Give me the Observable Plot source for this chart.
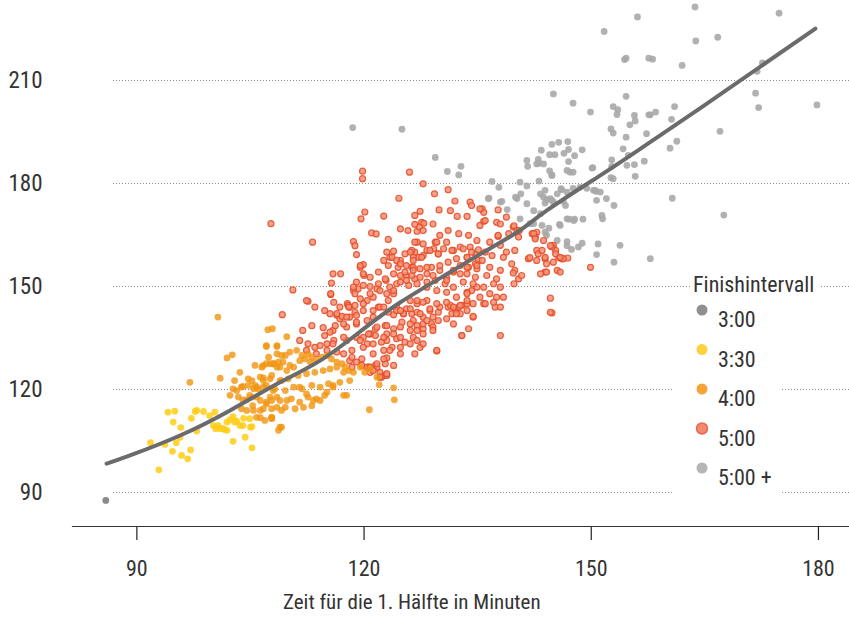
<!DOCTYPE html>
<html><head><meta charset="utf-8">
<script src="https://cdn.jsdelivr.net/npm/d3@7"></script>
<script src="https://cdn.jsdelivr.net/npm/@observablehq/plot@0.6"></script>
<style>
body{margin:0;background:#fff;}
#wrap{position:relative;width:849px;height:620px;font-family:"Liberation Sans Narrow","Arial Narrow","Roboto Condensed",sans-serif;color:#333;}
#xtitle{position:absolute;left:283px;top:592px;font-size:21px;white-space:nowrap;line-height:1;}
#legend{position:absolute;left:0;top:0;pointer-events:none;}
</style></head><body><div id="wrap"><div id="chart"></div><div id="xtitle"></div></div>
<script>
const xTitle = "Zeit für die 1. Hälfte in Minuten";
const legendTitle = "Finishintervall";
const finishLabels = ["3:00","3:30","4:00","5:00","5:00 +"];
const xTicks = [90,120,150,180];
const yTicks = [90,120,150,180,210];

const trendX = [86.0,89.1,95.7,102.3,108.9,114.2,119.5,124.8,131.4,135.3,140.2,144.1,150.8,155.2,164.5,179.6];
const trendY = [98.4,100.8,106.6,113.9,122.1,128.4,136.9,145.4,154.2,159.4,165.8,172.1,181.8,188.2,202.1,225.1];

const pts300 = [[85.9,87.7]];

const pts330 = [[94.1,113.4],[95.0,113.7],[94.8,110.5],[95.8,108.9],[91.8,104.5],[93.7,104.0],[95.2,104.5],[95.7,106.1],[94.7,102.0],[95.9,100.8],[96.7,99.8],[97.1,102.4],[92.9,96.6],[97.9,113.9],[97.7,113.6],[98.8,113.6],[97.2,111.6],[97.9,107.9],[99.6,112.4],[100.3,113.4],[100.1,109.5],[100.7,109.5],[101.0,108.6],[101.6,108.3],[101.9,110.5],[102.7,112.1],[102.9,110.5],[102.3,111.2],[102.7,104.9],[104.0,109.5],[104.3,106.1],[105.2,103.0],[105.0,109.0],[104.9,111.5],[100.4,108.6],[101.3,108.7],[103.2,110.8],[103.6,109.5],[105.2,109.2],[101.9,108.1],[104.1,111.6]];

const pts400 = [[100.7,141.1],[97.0,122.1],[101.0,123.3],[101.9,129.2],[102.6,130.1],[103.6,125.0],[104.7,123.1],[105.6,127.0],[107.1,132.8],[107.3,137.4],[107.9,137.7],[109.8,135.4],[108.5,132.8],[109.1,129.9],[110.2,130.9],[111.1,131.4],[107.6,127.5],[108.5,126.5],[109.3,128.0],[110.2,127.0],[102.7,120.2],[103.8,120.7],[105.4,120.2],[106.7,120.7],[108.0,119.7],[103.4,117.8],[104.5,117.0],[105.8,117.8],[107.1,116.3],[108.5,117.8],[109.8,116.8],[103.8,114.4],[105.4,113.9],[106.7,114.4],[108.5,114.8],[109.6,114.8],[106.3,111.8],[107.8,111.8],[108.9,109.0],[108.7,108.1],[104.9,118.3],[106.7,123.4],[107.6,123.1],[109.1,122.6],[102.9,122.6],[104.0,120.9],[104.7,121.2],[105.2,122.6],[105.6,121.2],[106.0,120.2],[106.7,122.6],[106.5,126.5],[107.1,127.5],[108.1,127.5],[107.4,129.4],[108.5,130.4],[107.1,132.5],[108.5,132.5],[102.3,118.3],[103.2,119.7],[104.0,117.0],[105.2,117.8],[105.3,115.3],[106.3,113.9],[105.8,111.9],[106.9,111.0],[107.8,111.9],[107.1,115.8],[107.8,116.8],[108.7,128.0],[109.6,129.9],[111.8,129.9],[112.6,130.4],[113.1,129.4],[106.7,127.0],[108.0,127.5],[108.9,126.5],[109.8,125.5],[110.7,126.5],[111.5,128.4],[112.2,128.9],[112.9,128.0],[113.7,128.4],[114.4,129.4],[115.1,129.9],[115.7,128.9],[116.4,128.0],[117.1,127.5],[117.5,126.5],[118.0,125.5],[106.3,123.6],[107.8,124.1],[108.9,122.6],[110.0,123.1],[111.3,124.1],[112.4,124.6],[113.5,125.0],[114.6,125.5],[115.5,126.0],[116.4,126.5],[117.3,125.0],[105.8,120.7],[107.1,121.2],[108.2,120.2],[109.6,119.7],[110.7,120.7],[111.8,120.2],[113.1,121.2],[114.2,120.7],[115.3,121.7],[115.9,121.2],[116.8,122.1],[118.1,122.6],[106.3,116.8],[107.6,117.8],[108.9,116.8],[110.4,117.3],[111.5,116.3],[112.6,117.8],[113.7,117.3],[114.8,118.3],[115.9,120.7],[117.7,118.3],[104.5,113.9],[107.8,114.4],[109.1,113.9],[110.9,114.4],[112.0,114.8],[113.1,115.3],[114.2,116.8],[107.8,111.5],[109.1,109.0],[120.7,114.1],[121.7,123.6],[122.0,121.4],[111.5,120.7],[112.4,118.7],[113.3,116.8],[115.1,119.2],[117.3,118.3],[123.9,120.5],[124.0,117.0],[119.5,126.5],[120.1,125.0],[120.8,126.0],[118.6,125.0]];

const pts500 = [[119.8,183.6],[119.8,181.4],[126.0,183.3],[107.7,168.3],[113.2,162.9],[120.1,171.7],[119.6,169.7],[122.6,170.5],[124.6,175.7],[126.7,170.7],[127.4,171.9],[121.0,165.6],[121.6,165.3],[124.8,166.8],[125.8,166.3],[127.0,166.1],[118.6,163.1],[118.8,161.9],[123.2,163.7],[127.0,162.9],[119.0,159.3],[123.0,160.0],[123.9,160.3],[123.4,158.5],[122.6,157.6],[119.9,156.4],[119.5,155.6],[124.8,157.6],[125.6,156.1],[126.3,155.6],[126.7,160.0],[126.3,160.5],[127.2,158.5],[115.9,153.7],[116.9,153.7],[115.7,151.0],[120.0,153.2],[119.0,151.3],[119.2,149.3],[118.6,148.8],[120.8,150.0],[121.7,149.3],[122.9,151.8],[124.3,150.8],[124.8,153.2],[125.6,153.2],[126.5,155.6],[126.7,152.2],[110.6,149.0],[112.6,145.7],[113.5,144.0],[114.8,143.0],[115.6,147.7],[116.0,145.4],[116.8,144.0],[117.8,145.0],[118.1,144.0],[109.2,141.8],[118.8,147.9],[119.5,146.4],[120.4,145.9],[121.2,146.9],[121.9,144.0],[123.2,145.9],[123.9,147.9],[124.3,144.0],[125.6,143.5],[126.3,142.1],[125.2,142.1],[127.0,145.0],[123.9,141.8],[115.5,142.1],[116.4,141.6],[118.1,141.1],[116.8,140.6],
[123.7,158.5],[123.2,156.1],[124.3,157.6],[126.1,160.0],[126.5,158.5],[128.3,160.5],[127.8,159.0],[129.2,161.0],[129.8,159.5],[129.4,162.9],[130.9,162.9],[131.8,160.5],[132.7,161.5],[134.0,161.5],[134.7,159.5],[133.6,158.5],[135.1,157.6],[119.5,156.1],[119.9,153.7],[120.8,152.7],[121.9,154.2],[122.8,152.2],[123.9,153.7],[124.5,155.6],[125.4,154.2],[126.3,153.2],[127.4,155.2],[128.3,153.7],[128.9,155.6],[130.0,154.7],[130.9,152.7],[131.8,154.2],[132.7,156.1],[133.8,155.6],[134.9,155.2],[133.6,153.7],[134.7,152.7],[118.6,149.8],[119.9,150.3],[120.8,147.9],[122.1,148.8],[123.4,149.8],[124.8,151.3],[125.9,150.3],[127.0,150.8],[128.3,151.3],[129.4,151.8],[130.7,150.8],[131.8,149.8],[133.1,151.3],[134.2,148.8],[133.6,148.3],[134.9,149.8],[117.1,141.3],[117.9,144.5],[118.8,142.5],[119.9,143.0],[121.2,141.1],[122.1,144.0],[123.2,142.5],[124.3,143.0],[125.2,142.1],[126.1,143.5],[127.0,142.5],[127.8,141.1],[128.7,143.0],[129.8,142.5],[131.1,144.0],[132.0,143.0],[132.9,144.5],[133.6,143.0],[134.4,141.1],[114.6,138.0],[115.9,137.2],[117.7,138.2],[119.0,139.1],[120.4,140.1],[121.5,137.7],[122.8,138.6],[123.9,137.7],[125.0,139.6],[126.1,137.2],[127.0,138.6],[127.8,137.7],[128.9,139.1],[129.8,140.1],[130.9,140.6],[131.8,139.1],[132.9,135.7],[117.7,134.3],[119.0,135.2],[120.4,133.3],[121.5,135.7],[123.0,134.3],[124.3,134.8],[125.4,133.8],[126.5,135.2],[127.4,132.3],[129.6,131.2],[122.6,131.4],[123.7,132.3],[124.8,130.4],[118.1,128.4],[119.7,128.9],[120.6,126.5],[121.5,127.0],[122.1,125.0],[122.8,124.1],[123.0,129.2],
[127.8,179.9],[131.1,178.2],[129.3,177.0],[132.0,174.9],[134.0,174.6],[134.2,173.6],[135.6,172.6],[135.8,171.6],[129.9,172.3],[131.4,172.1],[132.3,170.4],[133.6,170.4],[135.3,167.8],[135.8,169.0],[137.7,172.3],[138.8,170.2],[137.5,168.7],[138.0,168.2],[127.6,168.7],[127.9,168.4],[129.1,168.2],[127.3,167.3],[127.8,166.3],[130.0,164.9],[131.1,166.3],[132.5,165.4],[133.8,164.9],[134.9,163.4],[136.6,162.9],[137.7,164.6],[139.7,167.3],[138.8,160.0],[139.9,160.5],[138.0,162.0],[140.4,164.4],[142.2,165.4],[142.8,165.8],[142.6,164.4],[126.7,162.9],[127.8,162.4],[129.6,162.9],[130.5,161.0],[131.6,160.5],[133.1,161.0],[134.2,160.0],[135.1,160.7],[136.0,160.0],[136.9,159.0],[138.4,158.5],[125.4,159.5],[126.5,157.6],[127.6,158.5],[128.7,160.5],[129.8,159.5],[131.1,157.1],[132.2,158.1],[133.6,158.5],[134.7,156.6],[135.6,157.6],[136.6,155.6],[138.0,154.7],[139.9,154.7],[140.4,152.2],[139.8,150.8],[141.7,158.1],[142.8,160.5],[142.8,157.6],[143.9,158.1],[143.9,154.2],[145.0,162.0],[145.5,154.7],[146.1,158.1],[146.9,158.3],[145.9,154.2],[124.8,156.6],[126.5,154.7],[128.3,155.6],[130.0,156.1],[131.8,154.7],[133.6,155.6],[134.9,156.1],[136.2,153.2],[137.5,152.2],[135.8,149.8],[137.1,150.8],[138.0,149.8],[134.4,150.8],[132.7,153.7],[130.9,151.8],[129.1,153.2],[127.4,152.7],[125.6,151.8],[128.3,149.8],[129.6,148.8],[130.9,148.3],[132.2,146.9],[133.6,147.9],[135.3,146.9],[136.6,147.9],[137.5,146.9],[138.4,146.9],[137.3,144.0],[135.8,145.0],[133.6,145.0],[132.5,144.0],[131.4,144.5],[130.0,144.0],[128.3,145.9],[127.0,145.9],[127.4,142.1],[129.1,141.1],[131.6,142.1],[132.7,142.1],[144.6,146.6],[144.8,142.3],[124.8,143.0],[126.5,140.1],[127.8,139.1],[129.1,138.2],[133.8,137.7],
[126.7,168.1],[139.8,167.7],[140.2,166.3],[142.4,165.4],[142.6,163.9],[143.7,163.4],[145.3,160.5],[145.7,158.5],[146.3,158.1],[145.0,157.1],[144.1,156.6],[143.9,158.5],[143.0,159.5],[141.9,158.4],[144.1,154.2],[149.9,155.6],[143.3,153.7],[144.8,161.5],[115.6,147.9],[121.9,150.8],[123.0,147.9],[123.9,148.8],[135.3,172.6],[136.0,169.2],[137.7,164.9],[139.1,165.4],[140.5,166.3],[144.6,161.9],[145.3,159.5],[145.9,158.5],[143.5,160.5],[139.5,156.6],[139.7,153.9],[140.8,153.2],
[113.1,138.6],[111.9,137.2],[111.5,134.3],[112.6,133.3],[113.5,132.3],[114.2,132.8],[115.1,133.3],[116.0,134.3],[113.7,130.4],[114.8,135.7],[115.5,136.7],[116.2,138.6],[117.3,139.1],[117.7,141.1],[116.4,142.1],[118.0,144.0],[119.0,141.6],[118.8,144.5],[119.9,145.0],[119.0,139.6],[121.2,143.0],[122.6,144.0],[123.0,138.6],[121.7,138.2],[120.8,136.2],[119.9,135.2],[121.2,133.3],[122.3,133.8],[123.0,136.2],[117.3,130.4],[118.4,129.4],[119.0,128.0],[119.7,127.0],[120.4,126.5],[120.8,125.0],[121.7,126.5],[122.8,127.5],[122.3,123.6],[123.0,124.1],[118.4,126.5],[112.4,131.4],
[112.4,145.9],[126.1,145.9],[127.8,145.4],[128.7,143.5],[129.6,145.0],[130.9,145.4],[131.8,144.0],[132.7,144.5],[133.6,145.9],[134.4,145.0],[136.0,145.0],[137.1,145.4],[138.0,144.0],[144.6,142.5],[138.0,135.7],[134.4,141.3],[132.9,135.7],[132.2,142.1],[128.3,140.1],[129.1,137.2],[127.8,136.2],[127.0,134.3],[126.1,133.3],[124.8,132.3],[123.4,131.4],[122.6,128.9],[121.7,127.5],[120.8,126.5],[123.0,124.6],[122.1,123.6],[120.6,136.2],[119.5,134.3],[117.3,135.2],[115.9,133.3],[115.1,131.4],[116.4,130.9],[118.4,131.4],[119.9,132.3],[121.2,130.4],[122.6,135.2],[123.9,136.2],[124.8,138.2],[126.1,139.1],[127.0,137.2],[124.8,135.2],[126.7,130.4],[129.6,131.4],[127.8,133.3],[123.9,127.0],[121.2,125.5]];

const pts500plus = [[118.5,196.3],[125.0,195.8],[129.4,187.6],[131.0,183.5],[132.5,182.5],[132.8,185.0],[136.9,180.6],[137.8,178.9],[136.5,175.7],[138.0,174.6],[138.2,174.8],[138.9,172.4],[140.2,175.6],[140.7,177.0],[140.6,180.4],[141.5,179.3],[141.6,185.0],[141.5,186.7],[142.8,185.7],[143.0,187.0],[143.4,189.7],[144.5,188.4],[144.8,191.4],[145.2,188.4],[145.7,192.0],[146.9,192.2],[146.4,188.8],[147.0,189.9],[147.8,188.1],[148.8,189.8],[147.6,183.3],[146.8,183.8],[144.5,183.7],[144.8,182.5],[143.1,180.7],[145.0,206.1],[147.6,203.4],[149.9,200.8],[150.1,184.5],[150.3,178.0],[150.7,177.7],[149.4,178.6],[147.6,178.6],[146.8,177.5],[145.5,177.0],[144.1,175.3],[143.7,176.0],[144.6,175.6],[146.3,174.8],[146.6,173.6],[145.0,174.6],[143.9,174.3],[142.4,172.1],[143.3,171.2],[140.6,169.7],[142.4,168.3],[143.5,167.8],[144.4,167.0],[143.9,165.8],[144.1,164.9],[145.5,163.4],[146.8,163.1],[148.3,161.5],[147.4,160.8],[148.8,162.6],[150.9,162.4],[150.7,159.3],[147.1,169.6],[147.8,169.6],[148.9,169.6],[145.8,168.1],[143.7,185.7],[143.9,178.0],[146.1,178.2],[144.8,182.3],[147.2,183.3],[143.3,177.0],[146.8,161.9],[147.7,169.2],[146.8,169.7],[145.9,167.8],[144.8,175.1],[136.4,175.6],[140.0,176.0],[141.5,174.1],[154.6,205.4],[152.9,202.4],[153.5,201.5],[153.4,200.1],[155.7,199.8],[155.8,198.2],[155.1,197.1],[157.6,200.0],[152.6,195.9],[152.9,194.7],[154.6,193.5],[157.3,194.5],[154.2,190.1],[154.9,188.2],[154.7,185.3],[155.7,185.5],[157.0,186.5],[155.8,182.1],[152.7,186.9],[152.6,181.7],[152.9,181.4],[150.2,184.6],[143.1,185.9],[147.0,186.4],[146.0,178.5],[148.5,178.9],[150.5,178.0],[151.2,177.5],[152.0,175.6],[153.0,173.6],[150.7,175.1],[151.4,170.7],[151.5,169.7],[142.5,165.0],[153.8,162.0],[153.0,157.1],[157.8,158.1],[141.9,168.3],[163.7,231.4],[174.8,229.6],[156.1,228.5],[151.7,224.3],[163.8,221.5],[166.7,222.6],[154.4,216.1],[154.6,216.5],[157.6,216.5],[158.1,216.2],[162.0,214.4],[172.6,215.1],[171.9,212.7],[171.7,206.3],[172.1,202.1],[179.8,202.9],[157.8,200.0],[158.5,200.8],[161.0,202.4],[160.6,198.7],[167.0,195.2],[160.4,190.3],[161.3,192.3],[152.7,185.0],[160.7,175.7],[167.5,170.8]];

const FONT = '"Liberation Sans Narrow","Arial Narrow","Roboto Condensed",sans-serif';
const rows = (arr) => arr.map(([x, y]) => ({x, y}));
const trend = trendX.map((x, i) => ({x, y: trendY[i]}));

const plot = Plot.plot({
  width: 849, height: 620,
  marginLeft: 72, marginRight: 0, marginTop: 0, marginBottom: 94,
  x: {domain: [81.5, 184.1]},
  y: {domain: [80.1, 233.3]},
  style: {fontFamily: FONT, fontSize: "22px", color: "#333", background: "transparent"},
  marks: [
    Plot.gridY(yTicks, {stroke: "#8a8a8a", strokeOpacity: 1, strokeDasharray: "1,2", insetLeft: 41}),
    Plot.axisY(yTicks, {tickSize: 0, tickPadding: 30, label: null, fontSize: 23}),
    Plot.axisX(xTicks, {tickSize: 14, tickPadding: 20, label: null, stroke: "#222", strokeWidth: 1.2}),
    Plot.frame({anchor: "bottom", stroke: "#333", strokeWidth: 1.2}),
    Plot.dot(rows(pts500plus), {x: "x", y: "y", r: 3.4, fill: "#a9a9a9", fillOpacity: 0.9}),
    Plot.dot(rows(pts500), {x: "x", y: "y", r: 3, fill: "#f39079", fillOpacity: 0.85, stroke: "#e54a22", strokeWidth: 1.2, strokeOpacity: 0.85}),
    Plot.dot(rows(pts400), {x: "x", y: "y", r: 3.4, fill: "#f29510", fillOpacity: 0.8}),
    Plot.dot(rows(pts330), {x: "x", y: "y", r: 3.4, fill: "#ffcd16", fillOpacity: 0.85}),
    Plot.dot(rows(pts300), {x: "x", y: "y", r: 3.4, fill: "#8a8a8a"}),
    Plot.line(trend, {x: "x", y: "y", curve: "natural", stroke: "#6b6b6b", strokeWidth: 4})
  ]
});
document.getElementById("chart").appendChild(plot);
document.getElementById("xtitle").textContent = xTitle;

// legend overlay
const legendColors = [
  {fill: "#8f8f8f", stroke: "none"},
  {fill: "#fdd23e", stroke: "none"},
  {fill: "#f5a43a", stroke: "none"},
  {fill: "#f28a72", stroke: "#e8694e"},
  {fill: "#b5b5b5", stroke: "none"}
];
const lg = d3.select("#wrap").append("svg").attr("id", "legend")
  .attr("width", 849).attr("height", 620)
  .style("font-family", FONT);
lg.append("rect").attr("x", 673).attr("y", 298).attr("width", 107).attr("height", 200).attr("fill", "#fff");
lg.append("rect").attr("x", 690).attr("y", 272).attr("width", 130).attr("height", 28).attr("fill", "#fff");
lg.append("text").attr("x", 693).attr("y", 292).attr("font-size", 22).attr("fill", "#333").text(legendTitle);
finishLabels.forEach((lab, i) => {
  const cy = 310 + 39.5 * i;
  lg.append("circle").attr("cx", 702).attr("cy", cy).attr("r", 5.5)
    .attr("fill", legendColors[i].fill).attr("stroke", legendColors[i].stroke).attr("stroke-width", 1.5);
  lg.append("text").attr("x", 718).attr("y", cy + 17).attr("font-size", 22).attr("fill", "#333").text(lab);
});
</script></body></html>
